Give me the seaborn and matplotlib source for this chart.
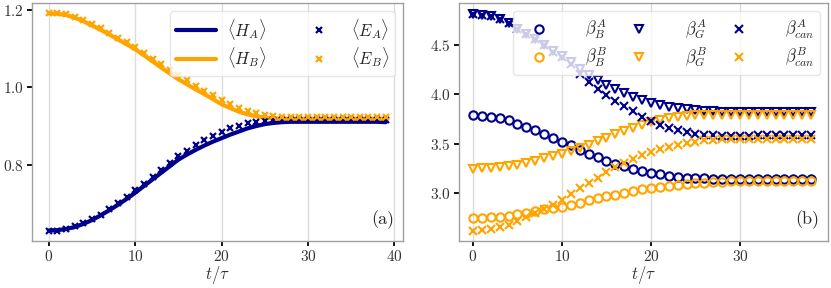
import numpy as np
import pandas as pd
import seaborn as sns
import matplotlib.pyplot as plt

# panel (a): energies vs time
t_a = list(range(40))
H_A = [0.633, 0.634, 0.637, 0.642, 0.650, 0.660, 0.672, 0.685, 0.699, 0.714,
       0.730, 0.747, 0.764, 0.781, 0.798, 0.815, 0.828, 0.840, 0.851, 0.861,
       0.870, 0.879, 0.887, 0.895, 0.901, 0.906, 0.909, 0.911, 0.912, 0.912,
       0.912, 0.912, 0.912, 0.912, 0.912, 0.912, 0.912, 0.912, 0.912, 0.911]
H_B = [1.190, 1.189, 1.186, 1.179, 1.170, 1.159, 1.148, 1.136, 1.123, 1.111,
       1.098, 1.083, 1.067, 1.051, 1.036, 1.021, 1.008, 0.995, 0.983, 0.970,
       0.957, 0.947, 0.938, 0.931, 0.926, 0.923, 0.921, 0.920, 0.920, 0.920,
       0.920, 0.920, 0.920, 0.920, 0.920, 0.920, 0.920, 0.920, 0.920, 0.920]
E_A = [0.632, 0.633, 0.638, 0.644, 0.652, 0.662, 0.674, 0.688, 0.703, 0.719,
       0.736, 0.753, 0.771, 0.789, 0.806, 0.823, 0.838, 0.852, 0.865, 0.876,
       0.886, 0.895, 0.902, 0.908, 0.912, 0.915, 0.916, 0.917, 0.917, 0.917,
       0.917, 0.917, 0.917, 0.917, 0.917, 0.917, 0.917, 0.917, 0.917, 0.917]
E_B = [1.192, 1.191, 1.188, 1.182, 1.173, 1.163, 1.152, 1.140, 1.128, 1.116,
       1.103, 1.089, 1.074, 1.059, 1.045, 1.031, 1.018, 1.005, 0.992, 0.980,
       0.968, 0.957, 0.948, 0.940, 0.934, 0.930, 0.927, 0.925, 0.925, 0.925,
       0.925, 0.925, 0.925, 0.925, 0.925, 0.925, 0.925, 0.925, 0.925, 0.925]

# panel (b): temperatures vs time
t_b = list(range(39))
beta_B_A = [3.788, 3.784, 3.774, 3.764, 3.737, 3.703, 3.670, 3.636, 3.602, 3.562,
            3.518, 3.484, 3.434, 3.400, 3.366, 3.326, 3.299, 3.275, 3.248, 3.225,
            3.205, 3.191, 3.174, 3.164, 3.157, 3.154, 3.151, 3.149, 3.148, 3.147,
            3.147, 3.147, 3.147, 3.147, 3.147, 3.147, 3.147, 3.147, 3.147]
beta_B_B = [2.753, 2.755, 2.759, 2.766, 2.777, 2.792, 2.806, 2.822, 2.838, 2.853,
            2.868, 2.888, 2.908, 2.929, 2.949, 2.969, 2.988, 3.007, 3.025, 3.041,
            3.056, 3.068, 3.079, 3.088, 3.096, 3.103, 3.109, 3.114, 3.118, 3.121,
            3.123, 3.125, 3.125, 3.125, 3.125, 3.125, 3.125, 3.125, 3.125]
beta_G_A = [4.805, 4.800, 4.785, 4.760, 4.715, 4.660, 4.610, 4.560, 4.500, 4.440,
            4.380, 4.320, 4.250, 4.195, 4.140, 4.090, 4.050, 4.007, 3.973, 3.940,
            3.912, 3.889, 3.872, 3.857, 3.846, 3.838, 3.832, 3.828, 3.825, 3.823,
            3.822, 3.822, 3.822, 3.822, 3.822, 3.822, 3.822, 3.822, 3.822]
beta_G_B = [3.248, 3.252, 3.257, 3.265, 3.275, 3.290, 3.310, 3.330, 3.352, 3.376,
            3.402, 3.430, 3.460, 3.492, 3.525, 3.560, 3.595, 3.628, 3.660, 3.690,
            3.718, 3.742, 3.760, 3.774, 3.783, 3.788, 3.791, 3.792, 3.792, 3.792,
            3.792, 3.792, 3.792, 3.792, 3.792, 3.792, 3.792, 3.792, 3.792]
beta_can_A = [4.810, 4.800, 4.785, 4.760, 4.715, 4.660, 4.610, 4.555, 4.495, 4.430,
              4.370, 4.300, 4.200, 4.125, 4.057, 3.990, 3.935, 3.880, 3.830, 3.775,
              3.725, 3.688, 3.660, 3.636, 3.618, 3.603, 3.592, 3.586, 3.583, 3.582,
              3.582, 3.583, 3.584, 3.585, 3.586, 3.587, 3.588, 3.589, 3.590]
beta_can_B = [2.625, 2.632, 2.642, 2.659, 2.686, 2.720, 2.760, 2.800, 2.840, 2.885,
              2.935, 2.990, 3.050, 3.100, 3.160, 3.215, 3.265, 3.310, 3.350, 3.390,
              3.417, 3.447, 3.470, 3.490, 3.508, 3.520, 3.535, 3.542, 3.545, 3.548,
              3.548, 3.548, 3.548, 3.549, 3.549, 3.550, 3.550, 3.550, 3.550]

NAVY = '#00008b'
ORANGE = '#ffa500'

sns.set_theme(style='ticks', rc={
    'axes.edgecolor': '#a0a0a0',
    'axes.linewidth': 1.0,
    'axes.grid': True,
    'axes.grid.axis': 'x',
    'grid.color': '#dcdcdc',
    'grid.linewidth': 1.0,
    'xtick.major.size': 3.6,
    'ytick.major.size': 3.6,
    'xtick.major.width': 1.3,
    'ytick.major.width': 1.3,
    'xtick.color': 'black',
    'ytick.color': 'black',
    'xtick.labelcolor': '#333333',
    'ytick.labelcolor': '#333333',
    'axes.labelcolor': '#333333',
    'xtick.labelsize': 11,
    'ytick.labelsize': 11,
    'axes.labelsize': 12,
    'legend.fontsize': 12,
})
plt.rcParams['font.family'] = 'serif'
plt.rcParams['font.serif'] = ['cmr10', 'DejaVu Serif']
plt.rcParams['mathtext.fontset'] = 'cm'
plt.rcParams['axes.formatter.use_mathtext'] = True

fig = plt.figure(figsize=(8.31, 2.88), dpi=100)
ax1 = fig.add_axes([0.0385, 0.163, 0.4465, 0.827])
ax2 = fig.add_axes([0.552, 0.163, 0.4444, 0.827])

df_a = pd.DataFrame({'t': t_a, 'H_A': H_A, 'H_B': H_B, 'E_A': E_A, 'E_B': E_B})

sns.lineplot(data=df_a, x='t', y='H_A', color=NAVY, lw=3, ax=ax1, label=r'$\langle H_A\rangle$')
sns.lineplot(data=df_a, x='t', y='H_B', color=ORANGE, lw=3, ax=ax1, label=r'$\langle H_B\rangle$')
ax1.plot(df_a['t'], df_a['E_A'], 'x', color=NAVY, ms=5, mew=1.6, label=r'$\langle E_A\rangle$')
ax1.plot(df_a['t'], df_a['E_B'], 'x', color=ORANGE, ms=5, mew=1.6, label=r'$\langle E_B\rangle$')

ax1.set_xlim(-1.95, 41.0)
ax1.set_ylim(0.606, 1.217)
ax1.set_xticks([0, 10, 20, 30, 40])
ax1.set_yticks([0.8, 1.0, 1.2])
ax1.set_xlabel(r'$t/\tau$', labelpad=0)
ax1.set_ylabel('')
ax1.legend(ncol=2, loc='upper right', handlelength=2.4, columnspacing=1.9,
           handletextpad=0.7, framealpha=0.8, edgecolor='#e0e0e0', borderpad=0.35,
           labelspacing=0.2)
ax1.text(0.975, 0.05, '(a)', transform=ax1.transAxes, ha='right', va='bottom', fontsize=13)

df_b = pd.DataFrame({'t': t_b, 'BA': beta_B_A, 'BB': beta_B_B, 'GA': beta_G_A,
                     'GB': beta_G_B, 'CA': beta_can_A, 'CB': beta_can_B})

mk = dict(ls='none', ms=6, mew=1.5)
ax2.plot(df_b['t'], df_b['BA'], marker='o', mfc='none', color=NAVY, label=r'$\beta_B^A$', **mk)
ax2.plot(df_b['t'], df_b['BB'], marker='o', mfc='none', color=ORANGE, label=r'$\beta_B^B$', **mk)
ax2.plot(df_b['t'], df_b['GA'], marker='v', mfc='none', color=NAVY, label=r'$\beta_G^A$', **mk)
ax2.plot(df_b['t'], df_b['GB'], marker='v', mfc='none', color=ORANGE, label=r'$\beta_G^B$', **mk)
ax2.plot(df_b['t'], df_b['CA'], marker='x', color=NAVY, label=r'$\beta_{can}^A$', **mk)
ax2.plot(df_b['t'], df_b['CB'], marker='x', color=ORANGE, label=r'$\beta_{can}^B$', **mk)

ax2.set_xlim(-1.6, 39.9)
ax2.set_ylim(2.52, 4.92)
ax2.set_xticks([0, 10, 20, 30])
ax2.set_yticks([3.0, 3.5, 4.0, 4.5])
ax2.set_xlabel(r'$t/\tau$', labelpad=0)
ax2.legend(ncol=3, loc='upper right', handlelength=2.4, columnspacing=0.7,
           handletextpad=1.55, framealpha=0.8, edgecolor='#e0e0e0', borderpad=0.35,
           labelspacing=0.3)
ax2.text(0.975, 0.05, '(b)', transform=ax2.transAxes, ha='right', va='bottom', fontsize=13)

for ax in (ax1, ax2):
    ax.tick_params(axis='both', which='both', direction='out', pad=2)

fig.savefig('out.png', dpi=100)
